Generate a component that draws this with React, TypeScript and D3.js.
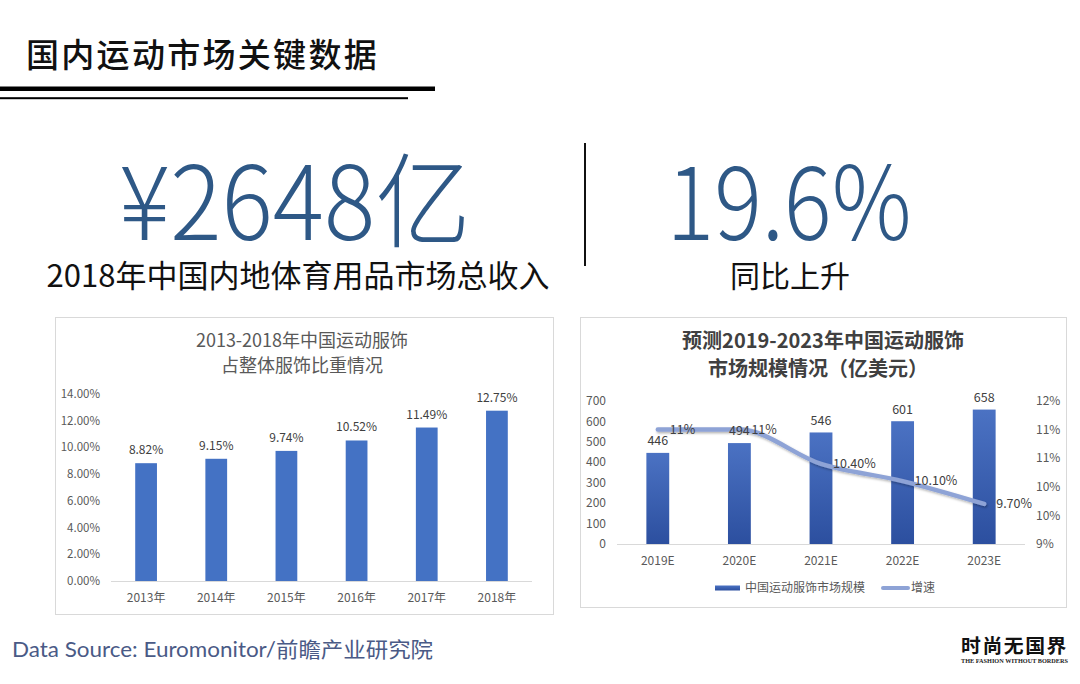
import React from 'react';
import * as d3 from 'd3';

const CJK = '"Noto Sans CJK SC", "Noto Sans", sans-serif';

// left chart: share of sportswear in total apparel
const shareYears = ['2013年', '2014年', '2015年', '2016年', '2017年', '2018年'];
const shareValues = [8.82, 9.15, 9.74, 10.52, 11.49, 12.75];
const shareTicks = [0, 2, 4, 6, 8, 10, 12, 14];

// right chart: forecast market size (亿美元) and growth
const forecastYears = ['2019E', '2020E', '2021E', '2022E', '2023E'];
const marketSize = [446, 494, 546, 601, 658];
const growthRate = [11, 11, 10.4, 10.1, 9.7];
const growthLabels = ['11%', '11%', '10.40%', '10.10%', '9.70%'];
const sizeTicks = [0, 100, 200, 300, 400, 500, 600, 700];
const rateTicks = [9, 9.5, 10, 10.5, 11, 11.5];

const ShareChart = () => {
  const x = d3.scaleBand().domain(shareYears).range([111, 532]).paddingInner(0.69).paddingOuter(0.345);
  const y = d3.scaleLinear().domain([0, 14]).range([581, 394]);
  return (
    <g>
      <rect x={55.5} y={317.5} width={498} height={297} fill="#fff" stroke="#d9d9d9" />
      <text x={302} y={347} textAnchor="middle" fontSize={18} fill="#595959" fontFamily={CJK}>2013-2018年中国运动服饰</text>
      <text x={302} y={372} textAnchor="middle" fontSize={18} fill="#595959" fontFamily={CJK}>占整体服饰比重情况</text>
      {shareTicks.map((t) => (
        <text key={t} x={100} y={y(t)} dy="0.35em" textAnchor="end" fontSize={11.5} fill="#595959" fontFamily={CJK}>
          {d3.format('.2f')(t)}%
        </text>
      ))}
      <line x1={111} x2={532} y1={y(0) + 0.5} y2={y(0) + 0.5} stroke="#d9d9d9" />
      {shareValues.map((v, i) => (
        <g key={shareYears[i]}>
          <rect x={x(shareYears[i])} y={y(v)} width={x.bandwidth()} height={y(0) - y(v)} fill="#4472c4" />
          <text x={x(shareYears[i])! + x.bandwidth() / 2} y={y(v) - 9} textAnchor="middle" fontSize={12} fill="#404040" fontFamily={CJK}>
            {d3.format('.2f')(v)}%
          </text>
          <text x={x(shareYears[i])! + x.bandwidth() / 2} y={598} dy="0.35em" textAnchor="middle" fontSize={12} fill="#595959" fontFamily={CJK}>
            {shareYears[i]}
          </text>
        </g>
      ))}
    </g>
  );
};

const ForecastChart = () => {
  const x = d3.scaleBand().domain(forecastYears).range([617, 1025]).paddingInner(0.72).paddingOuter(0.36);
  const y = d3.scaleLinear().domain([0, 700]).range([544, 401]);
  const y2 = d3.scaleLinear().domain([9, 11.5]).range([544, 401]);
  const cx = (i: number) => x(forecastYears[i])! + x.bandwidth() / 2;
  const line = d3.line<number>().x((_, i) => cx(i)).y((d) => y2(d)).curve(d3.curveMonotoneX);
  return (
    <g>
      <defs>
        <linearGradient id="barGrad" x1="0" y1="0" x2="0" y2="1">
          <stop offset="0%" stopColor="#4b72c3" />
          <stop offset="100%" stopColor="#2c4f9f" />
        </linearGradient>
        <filter id="shadow" x="-10%" y="-50%" width="120%" height="200%">
          <feDropShadow dx="1" dy="1.5" stdDeviation="1.2" floodColor="#000" floodOpacity="0.3" />
        </filter>
      </defs>
      <rect x={580.5} y={317.5} width={486} height={290} fill="#fff" stroke="#d9d9d9" />
      <text x={823} y={348} textAnchor="middle" fontSize={20} fontWeight="bold" fill="#404040" fontFamily={CJK}>预测2019-2023年中国运动服饰</text>
      <text x={818} y={376} textAnchor="middle" fontSize={20} fontWeight="bold" fill="#404040" fontFamily={CJK}>市场规模情况（亿美元）</text>
      {sizeTicks.map((t) => (
        <text key={t} x={606} y={y(t)} dy="0.35em" textAnchor="end" fontSize={12} fill="#595959" fontFamily={CJK}>{t}</text>
      ))}
      {rateTicks.map((t) => (
        <text key={t} x={1036} y={y2(t)} dy="0.35em" textAnchor="start" fontSize={12} fill="#595959" fontFamily={CJK}>
          {Math.round(t)}%
        </text>
      ))}
      <line x1={617} x2={1025} y1={y(0) + 0.5} y2={y(0) + 0.5} stroke="#d9d9d9" />
      {marketSize.map((v, i) => (
        <g key={forecastYears[i]}>
          <rect x={x(forecastYears[i])} y={y(v)} width={x.bandwidth()} height={y(0) - y(v)} fill="url(#barGrad)" />
          <text x={cx(i)} y={561} dy="0.35em" textAnchor="middle" fontSize={12} fill="#595959" fontFamily={CJK}>{forecastYears[i]}</text>
        </g>
      ))}
      <path d={line(growthRate)!} fill="none" stroke="#8ea3d6" strokeWidth={4.5} strokeLinecap="round" filter="url(#shadow)" />
      {marketSize.map((v, i) => (
        <text key={'v' + i} x={cx(i)} y={y(v) - 12} dy="0.35em" textAnchor="middle" fontSize={12.5} fill="#404040" fontFamily={CJK}>{v}</text>
      ))}
      {growthRate.map((v, i) => (
        <text key={i} x={cx(i) + 12} y={y2(v)} dy="0.35em" fontSize={12.5} fill="#404040" fontFamily={CJK}>{growthLabels[i]}</text>
      ))}
      <rect x={715} y={585.5} width={25} height={5} fill="url(#barGrad)" />
      <text x={745} y={588} dy="0.35em" fontSize={12} fill="#595959" fontFamily={CJK}>中国运动服饰市场规模</text>
      <line x1={883} x2={908} y1={588} y2={588} stroke="#8ea3d6" strokeWidth={4} strokeLinecap="round" />
      <text x={911} y={588} dy="0.35em" fontSize={12} fill="#595959" fontFamily={CJK}>增速</text>
    </g>
  );
};

export default function App() {
  return (
    <div style={{ position: 'absolute', left: 0, top: 0 }}>
      <svg width={1080} height={684} style={{ display: 'block', background: '#fff' }}>
        <text x={26} y={67} fontSize={33} letterSpacing={2.3} fontWeight={500} fill="#111" fontFamily={CJK}>国内运动市场关键数据</text>
        <rect x={0} y={86.5} width={435} height={4.5} fill="#000" />
        <rect x={0} y={97.2} width={408} height={2} fill="#000" />

        <text x={295} y={240} textAnchor="middle" fontSize={103} fontWeight={300} fill="#2e5886" fontFamily={CJK}
          textLength={352} lengthAdjust="spacingAndGlyphs">¥2648亿</text>
        <text x={789} y={240} textAnchor="middle" fontSize={103} fontWeight={300} fill="#2e5886" fontFamily={CJK}
          textLength={245} lengthAdjust="spacingAndGlyphs">19.6%</text>
        <line x1={585} x2={585} y1={143} y2={266} stroke="#111" strokeWidth={2} />
        <text x={298} y={287} textAnchor="middle" fontSize={31} fill="#111" fontFamily={CJK}>2018年中国内地体育用品市场总收入</text>
        <text x={790} y={287} textAnchor="middle" fontSize={30} fill="#111" fontFamily={CJK}>同比上升</text>

        <ShareChart />
        <ForecastChart />

        <text x={12} y={657} fontSize={21} fill="#4a5a86" fontFamily={'Lato, "Noto Sans CJK SC", sans-serif'}
          textLength={421} lengthAdjust="spacingAndGlyphs">Data Source: Euromonitor/前瞻产业研究院</text>
        <text x={961} y={653} fontSize={19} fontWeight="bold" letterSpacing={1.5} fill="#111" fontFamily={CJK}
          textLength={107} lengthAdjust="spacingAndGlyphs">时尚无国界</text>
        <text x={961} y={663} fontSize={5.5} fontWeight="bold" fill="#222" fontFamily={'"Liberation Serif", serif'}
          textLength={107} lengthAdjust="spacingAndGlyphs">THE FASHION WITHOUT BORDERS</text>
      </svg>
    </div>
  );
}
